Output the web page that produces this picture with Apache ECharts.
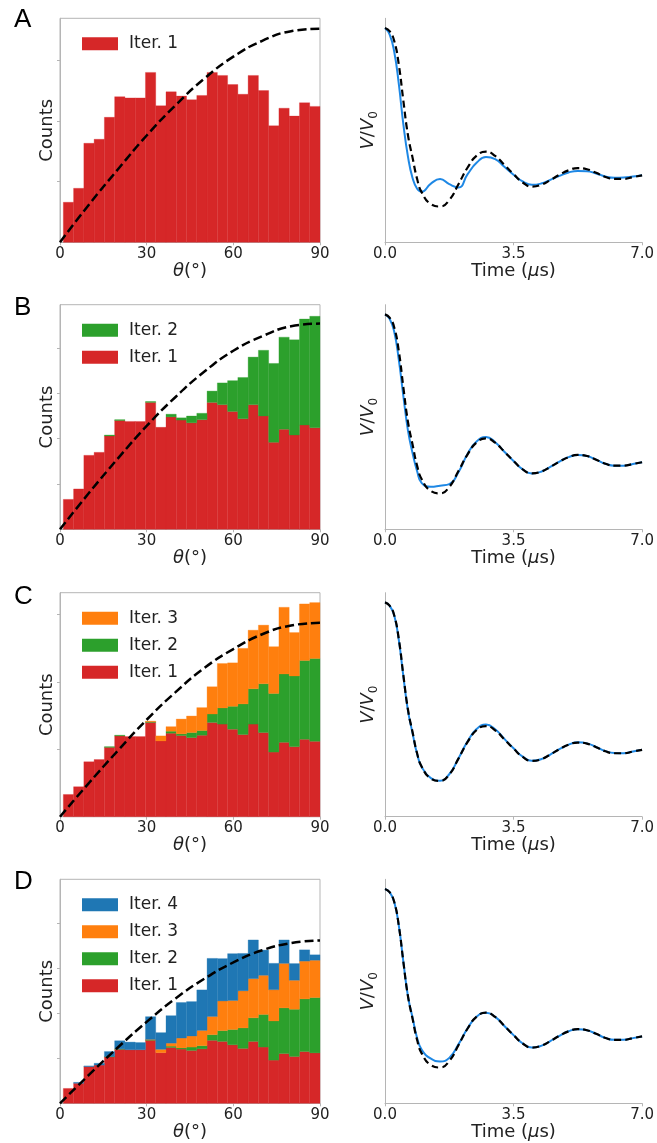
<!DOCTYPE html>
<html><head><meta charset="utf-8">
<script src="https://cdn.jsdelivr.net/npm/echarts@6/dist/echarts.min.js"></script>
<style>html,body{margin:0;padding:0;background:#fff}#c{width:657px;height:1143px}</style>
</head><body><div id="c"></div>
<script>
// ---- histogram data (counts per 3.55° bin, 25 bins) ----
const thetaStart = 1.15;
const binWidth = 3.554;
const iter1 = [33, 44.5, 81.6, 84.9, 103, 120, 119, 119, 140, 112.5, 124, 120.5, 117.5, 121, 140, 137.5, 130, 122, 137.5, 125, 96, 110.5, 104, 115, 112];
const iter2 = [0, 0, 0, 0, 1, 1, 0, 0, 1, 0, 3, 2.5, 7.5, 7, 12.5, 24, 34, 45.5, 52.5, 72.5, 87, 101.5, 105, 117, 123];
const iter3 = [0, 0, 0, 0, 0, 0, 0, 0, 1, 7.5, 6.7, 22, 24.5, 34, 40.5, 66, 64.5, 82.5, 87, 87, 69.5, 99, 64.5, 84, 83];
const iter4 = [0, 2, 1.5, 4, 11, 18, 17, 16, 50.5, 37, 61, 79, 76.5, 90, 129, 94, 104, 83, 86, 56, 58.5, 52, 37, 25, 12];
const iterNames = ['Iter. 1', 'Iter. 2', 'Iter. 3', 'Iter. 4'];
const iterColors = ['#d62728', '#2ca02c', '#ff7f0e', '#1f77b4'];

// ---- dashed reference distributions (read at 10° steps) ----
const thetaPts = [0, 10, 20, 30, 40, 50, 60, 70, 80, 90];
const refA = [0, 31, 60, 88, 113, 135, 153, 166, 174, 176];
const refB = [0, 40, 78, 114, 146, 174, 197, 213, 224, 227];
const refC = [0, 50, 98, 144, 185, 221, 249, 271, 284, 288];
const refD = [0, 63, 124, 181, 233, 277, 313, 340, 356, 362];

// ---- time traces V/V0 ----
const timeUs = [0, 0.125, 0.25, 0.375, 0.5, 0.625, 0.75, 0.875, 1, 1.25, 1.5, 1.75, 2, 2.25, 2.5, 2.75, 3, 3.25, 3.5, 3.75, 4, 4.25, 4.5, 4.75, 5, 5.25, 5.5, 5.75, 6, 6.25, 6.5, 6.75, 7];
const traceRef = [1.0, 0.985, 0.94, 0.83, 0.66, 0.50, 0.395, 0.295, 0.233, 0.178, 0.167, 0.197, 0.271, 0.349, 0.405, 0.423, 0.403, 0.361, 0.318, 0.279, 0.260, 0.268, 0.290, 0.315, 0.336, 0.346, 0.341, 0.324, 0.305, 0.296, 0.296, 0.304, 0.312];
const fitA = [1.0, 0.97, 0.89, 0.74, 0.55, 0.40, 0.30, 0.25, 0.236, 0.274, 0.295, 0.271, 0.256, 0.318, 0.372, 0.398, 0.388, 0.352, 0.315, 0.284, 0.268, 0.274, 0.291, 0.310, 0.326, 0.333, 0.332, 0.321, 0.307, 0.301, 0.302, 0.307, 0.313];
const fitB = [1.0, 0.98, 0.92, 0.79, 0.62, 0.46, 0.355, 0.27, 0.215, 0.198, 0.203, 0.21, 0.265, 0.352, 0.41, 0.43, 0.405, 0.361, 0.318, 0.279, 0.260, 0.268, 0.290, 0.315, 0.336, 0.346, 0.341, 0.324, 0.305, 0.296, 0.296, 0.304, 0.312];
const fitC = [1.0, 0.985, 0.94, 0.825, 0.655, 0.495, 0.39, 0.292, 0.232, 0.18, 0.168, 0.198, 0.272, 0.352, 0.41, 0.43, 0.408, 0.363, 0.319, 0.28, 0.261, 0.268, 0.290, 0.315, 0.336, 0.347, 0.342, 0.325, 0.306, 0.297, 0.296, 0.304, 0.312];
const fitD = [1.0, 0.985, 0.94, 0.83, 0.66, 0.50, 0.40, 0.305, 0.25, 0.208, 0.195, 0.212, 0.275, 0.35, 0.405, 0.423, 0.403, 0.361, 0.318, 0.279, 0.260, 0.268, 0.290, 0.315, 0.336, 0.346, 0.341, 0.324, 0.305, 0.296, 0.296, 0.304, 0.312];

// ---- axis settings ----
const countMax = [184.6, 247.8, 332.7, 497.8];
const countTicks = [[50, 100, 150], [50, 100, 150, 200], [100, 200, 300], [100, 200, 300, 400]];
const thetaTicks = [0, 30, 60, 90];
const timeTicks = [0, 3.5, 7];
const letters = ['A', 'B', 'C', 'D'];

const iterData = [iter1, iter2, iter3, iter4];
const refs = [refA, refB, refC, refD];
const fits = [fitA, fitB, fitC, fitD];

const FONT = 'DejaVu Sans';
const GRAY = '#b5b5b5';
const TXT = '#222';
const gridTops = [18.3, 304.7, 592.7, 879.3];
const gridH = [224, 224.6, 224, 224];
const letterY = [19.5, 307.5, 596.5, 882];

const grids = [], xAxes = [], yAxes = [], series = [], legends = [], graphics = [];

function histRender(params, api) {
  if (api.value(3) - api.value(2) <= 0) return null;
  const a = api.coord([api.value(0), api.value(3)]);
  const b = api.coord([api.value(1), api.value(2)]);
  const c = api.visual('color');
  return { type: 'rect', shape: { x: a[0], y: a[1], width: b[0] - a[0], height: b[1] - a[1] },
           style: { fill: c, stroke: c, lineWidth: 0.3 } };
}

for (let p = 0; p < 4; p++) {
  const top = gridTops[p], h = gridH[p];
  grids.push({ left: 60, top: top, width: 260, height: h, show: true, borderColor: GRAY, borderWidth: 1, backgroundColor: 'transparent' });
  grids.push({ left: 385, top: top, width: 258, height: h });
  const gl = 2 * p, gr = 2 * p + 1;
  xAxes.push({
    gridIndex: gl, type: 'value', min: 0, max: 90, interval: 30,
    axisLine: { show: true, lineStyle: { color: GRAY, width: 1 } },
    axisTick: { show: true, length: 3, lineStyle: { color: GRAY }, customValues: thetaTicks },
    axisLabel: { fontSize: 15, color: TXT, fontFamily: FONT, margin: 4, customValues: thetaTicks },
    splitLine: { show: false },
    name: '{i|θ}(°)', nameLocation: 'middle', nameGap: 15,
    nameTextStyle: { fontSize: 18, color: TXT, fontFamily: FONT, rich: { i: { fontStyle: 'italic', fontSize: 18, fontFamily: FONT, color: TXT } } }
  });
  xAxes.push({
    gridIndex: gr, type: 'value', min: 0, max: 7, interval: 3.5,
    axisLine: { show: true, lineStyle: { color: GRAY, width: 1 } },
    axisTick: { show: true, length: 3, lineStyle: { color: GRAY }, customValues: timeTicks },
    axisLabel: { fontSize: 15, color: TXT, fontFamily: FONT, margin: 4, customValues: timeTicks, formatter: v => v.toFixed(1) },
    splitLine: { show: false },
    name: 'Time ({i|μ}s)', nameLocation: 'middle', nameGap: 15,
    nameTextStyle: { fontSize: 18, color: TXT, fontFamily: FONT, rich: { i: { fontStyle: 'italic', fontSize: 18, fontFamily: FONT, color: TXT } } }
  });
  yAxes.push({
    gridIndex: gl, type: 'value', min: 0, max: countMax[p],
    axisLine: { show: true, lineStyle: { color: GRAY, width: 1 } },
    axisTick: { show: true, length: 3, lineStyle: { color: GRAY }, customValues: countTicks[p] },
    axisLabel: { show: false }, splitLine: { show: false },
    name: 'Counts', nameLocation: 'middle', nameGap: 4, nameRotate: 90,
    nameTextStyle: { fontSize: 18, color: TXT, fontFamily: FONT }
  });
  yAxes.push({
    gridIndex: gr, type: 'value', min: 0, max: 1.045,
    axisLine: { show: true, lineStyle: { color: GRAY, width: 1 } },
    axisTick: { show: false }, axisLabel: { show: false }, splitLine: { show: false },
    name: '{i|V}/{i|V}{s|0}', nameLocation: 'middle', nameGap: 5, nameRotate: 90,
    nameTextStyle: { fontSize: 18, color: TXT, fontFamily: FONT,
      rich: { i: { fontStyle: 'italic', fontSize: 18, fontFamily: FONT, color: TXT, lineHeight: 24, verticalAlign: 'middle' },
              s: { fontSize: 12, fontFamily: FONT, color: TXT, lineHeight: 24, verticalAlign: 'bottom' } } }
  });

  // stacked histogram
  const base = new Array(iter1.length).fill(0);
  for (let k = 0; k <= p; k++) {
    const vals = iterData[k];
    const data = vals.map((v, j) => {
      const x0 = thetaStart + j * binWidth, x1 = thetaStart + (j + 1) * binWidth;
      const d = [x0, x1, base[j], base[j] + v];
      base[j] += v;
      return d;
    });
    series.push({
      type: 'custom', name: iterNames[k], xAxisIndex: gl, yAxisIndex: gl,
      itemStyle: { color: iterColors[k] }, renderItem: histRender,
      encode: { x: [0, 1], y: [2, 3] }, data: data, z: 2, silent: true
    });
  }
  series.push({
    type: 'line', xAxisIndex: gl, yAxisIndex: gl, data: thetaPts.map((t, i) => [t, refs[p][i]]),
    smooth: true, symbol: 'none', lineStyle: { color: '#000', width: 2.5, type: [9, 4] }, z: 5, silent: true
  });
  // time traces
  series.push({
    type: 'line', xAxisIndex: gr, yAxisIndex: gr, data: timeUs.map((t, i) => [t, fits[p][i]]),
    smooth: true, symbol: 'none', lineStyle: { color: '#1e88e5', width: 2 }, z: 3, silent: true
  });
  series.push({
    type: 'line', xAxisIndex: gr, yAxisIndex: gr, data: timeUs.map((t, i) => [t, traceRef[i]]),
    smooth: true, symbol: 'none', lineStyle: { color: '#000', width: 2.2, type: [7, 4] }, z: 4, silent: true
  });

  legends.push({
    data: iterNames.slice(0, p + 1).reverse(), orient: 'vertical', left: 77, top: top + 12,
    itemWidth: 36, itemHeight: 13, itemGap: 10, icon: 'rect', selectedMode: false,
    textStyle: { fontSize: 17, color: TXT, fontFamily: FONT, padding: [0, 0, 0, 6] }
  });
  graphics.push({
    type: 'text', left: 14, top: letterY[p] - 13,
    style: { text: letters[p], fontSize: 26, fontFamily: 'Liberation Sans', fill: '#000' }
  });
}

const chart = echarts.init(document.getElementById('c'), null, { renderer: 'canvas' });
chart.setOption({
  animation: false, backgroundColor: '#fff',
  grid: grids, xAxis: xAxes, yAxis: yAxes, series: series, legend: legends, graphic: graphics
});
</script></body></html>
